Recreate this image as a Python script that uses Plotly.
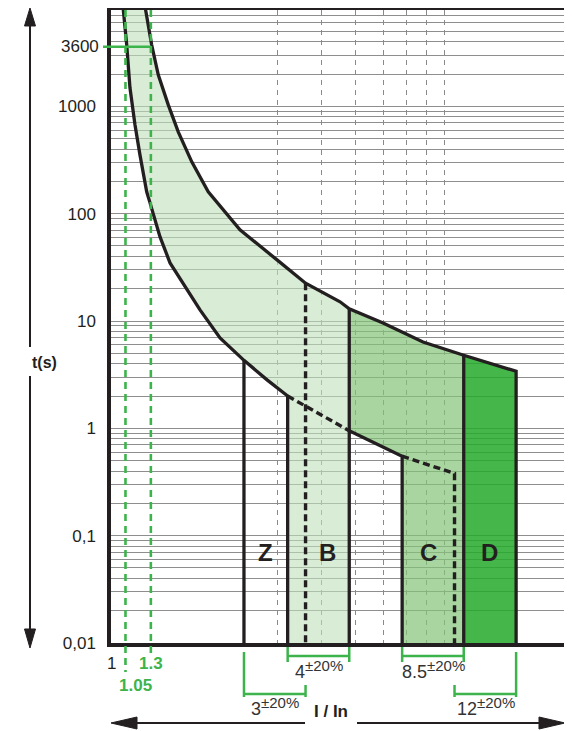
import math
import plotly.graph_objects as go

# ---------------- data ----------------
# upper limit of the thermal band (I/In, t in s)
upper_I = [1.249, 1.307, 1.365, 1.458, 1.557, 1.702, 1.897, 2.338, 2.984, 3.6, 4.518, 4.8, 5.996, 7.80, 10.2]
upper_t = [8800, 3740, 1966, 1032, 578, 304, 160, 70.6, 37.1, 22.5, 15.1, 13.0, 9.6, 6.38, 4.8]
# lower limit of the thermal band
lower_I = [1.081, 1.109, 1.133, 1.171, 1.21, 1.265, 1.293, 1.381, 1.475, 1.607, 1.797, 2.05, 2.4, 2.794, 3.2]
lower_t = [8800, 3740, 1490, 673, 353, 160, 126, 60.8, 34.8, 22.6, 12.7, 6.96, 4.3, 2.83, 2.0]
# lower limit of the magnetic (instantaneous) zone
inst_I = [3.2, 4.8, 6.8, 9.6]
inst_t = [2.0, 0.95, 0.55, 0.38]
# top edge of curve D
d_top_I = [10.2, 14.4]
d_top_t = [4.8, 3.4]

curve_names = ["Z", "B", "C", "D"]
nominal = [3, 4, 8.5, 12]          # magnetic trip, x In
nominal_text = ["3", "4", "8.5", "12"]
tolerance = 0.20

t_min, t_max = 0.01, 7900
I_min, I_max = 1, 20

ytick_vals = [0.01, 0.1, 1, 10, 100, 1000]
ytick_text = ["0,01", "0,1", "1", "10", "100", "1000"]
marker_time = 3600
conv_I = [1.1, 1.3]                 # drawn positions of the conventional currents
conv_text = ["1.05", "1.3"]
x_grid = [3, 4, 5, 6, 7, 8, 9]
y_minor = [m * 10 ** k for k in range(-2, 4) for m in range(2, 10)]

# ---------------- styles ----------------
FONT = "Liberation Sans, Arial, sans-serif"
BLACK = "#231f20"
GREEN = "#3cb44b"
GRID = "#8e8e8e"
LIGHT = "rgba(192,223,185,0.6)"
MEDIUM = "rgba(131,195,119,0.7)"
DARK = "rgba(36,169,42,0.85)"

# page body keeps an 8 px margin, so the figure is made 8 px smaller
OFF = 8
W, H = 572 - OFF, 731 - OFF
L, R, T, B = 111 - OFF, 6, 10 - OFF, 88
PW, PH = W - L - R, H - T - B     # 455 x 633 ; window coords: x 111..566, y 10..643


def lg(v):
    return math.log10(v)


def px2x(p):          # window pixel -> paper x
    return (p - 111) / PW


def px2y(p):          # window pixel -> paper y
    return (643 - p) / PH


def on_curve(Is, ts, x):
    for i in range(len(Is) - 1):
        if Is[i] <= x <= Is[i + 1]:
            f = (lg(x) - lg(Is[i])) / (lg(Is[i + 1]) - lg(Is[i]))
            return 10 ** (lg(ts[i]) + f * (lg(ts[i + 1]) - lg(ts[i])))
    return ts[-1]


lo = [n * (1 - tolerance) for n in nominal]
hi = [n * (1 + tolerance) for n in nominal]
zl, zh = lo[0], hi[0]
bl, bh = lo[1], hi[1]
cl, ch = lo[2], hi[2]
dl, dh = lo[3], hi[3]

fig = go.Figure()

# ---------------- fills ----------------
k = upper_I.index(bh)
light_x = lower_I + [bl, bh] + upper_I[:k + 1][::-1]
light_y = lower_t + [t_min, t_min] + upper_t[:k + 1][::-1]
fig.add_trace(go.Scatter(x=light_x, y=light_y, fill="toself", fillcolor=LIGHT,
                         mode="lines", line=dict(width=0), hoverinfo="skip"))

med_x = upper_I[k:] + [ch, cl, cl, bh]
med_y = upper_t[k:] + [t_min, t_min, inst_t[2], inst_t[1]]
fig.add_trace(go.Scatter(x=med_x, y=med_y, fill="toself", fillcolor=MEDIUM,
                         mode="lines", line=dict(width=0), hoverinfo="skip"))

dark_x = d_top_I + [d_top_I[1], d_top_I[0]]
dark_y = d_top_t + [t_min, t_min]
fig.add_trace(go.Scatter(x=dark_x, y=dark_y, fill="toself", fillcolor=DARK,
                         mode="lines", line=dict(width=0), hoverinfo="skip"))

# ---------------- black lines ----------------
solid = dict(color=BLACK, width=3.3)
dashed = dict(color=BLACK, width=3.4, dash="7px,4px")


def line(xs, ys, style):
    fig.add_trace(go.Scatter(x=xs, y=ys, mode="lines", line=style, hoverinfo="skip"))


line(upper_I + d_top_I[1:] + [d_top_I[-1]], upper_t + d_top_t[1:] + [t_min], solid)
line(lower_I + [lower_I[-1]], lower_t + [t_min], solid)
line([zl, zl], [on_curve(lower_I, lower_t, zl), t_min], solid)
line([bh, bh], [on_curve(upper_I, upper_t, bh), t_min], solid)
line([inst_I[1], inst_I[2], inst_I[2]], [inst_t[1], inst_t[2], t_min], solid)
line([ch, ch], [on_curve(upper_I, upper_t, ch), t_min], solid)
line(inst_I[:2], inst_t[:2], dashed)
line([inst_I[2], inst_I[3], inst_I[3]], [inst_t[2], inst_t[3], t_min], dashed)
line([zh, zh], [on_curve(upper_I, upper_t, zh), t_min], dashed)

shapes = []
ann = []

# conventional current lines (green dashed) - shapes on log axes take data values
ends = [672, 653]
for xv, yb in zip(conv_I, ends):
    shapes.append(dict(type="line", xref="x", yref="paper", x0=xv, x1=xv,
                       y0=1, y1=px2y(yb), line=dict(color=GREEN, width=2.6, dash="7px,5px")))
# 3600 s marker
shapes.append(dict(type="line", xref="paper", yref="y", x0=px2x(103), x1=lg(conv_I[1]) / lg(I_max),
                   y0=marker_time, y1=marker_time, line=dict(color=GREEN, width=2.5)))
ann.append(dict(xref="paper", yref="y", x=px2x(101), y=lg(marker_time), text=str(marker_time),
                xanchor="right", yanchor="middle", showarrow=False,
                font=dict(family=FONT, size=17, color=BLACK)))

# x labels
ann.append(dict(xref="x", yref="paper", x=lg(I_min), y=px2y(663.5), text="1", showarrow=False,
                xanchor="center", yanchor="middle", font=dict(family=FONT, size=17, color=BLACK)))
ann.append(dict(xref="x", yref="paper", x=lg(conv_I[1]), y=px2y(663.5), text="<b>%s</b>" % conv_text[1],
                showarrow=False, xanchor="center", yanchor="middle",
                font=dict(family=FONT, size=17, color=GREEN)))
ann.append(dict(xref="x", yref="paper", x=lg(conv_I[0]), xshift=10, y=px2y(685.5),
                text="<b>%s</b>" % conv_text[0], showarrow=False, xanchor="center", yanchor="middle",
                font=dict(family=FONT, size=17, color=GREEN)))

# region letters
label_t = 0.069
bounds = [(zl, bl), (zh, bh), (cl, dl), (ch, dh)]
for name, (a, b) in zip(curve_names, bounds):
    ann.append(dict(xref="x", yref="y", x=(lg(a) + lg(b)) / 2, y=lg(label_t), text="<b>%s</b>" % name,
                    showarrow=False, font=dict(family=FONT, size=24, color=BLACK)))

# tolerance brackets
gl = dict(color=GREEN, width=2.5)
NUM_FS, TOL_FS = 18, 15
tol_text = "±%d%%" % round(tolerance * 100)


def text_w(s, fs):
    widths = {".": 0.278, "±": 0.584, "%": 0.889}
    return sum(widths.get(c, 0.556) for c in s) * fs


for i in range(4):
    a, b = lo[i], hi[i]
    if i in (1, 2):
        yh = 656
        shapes.append(dict(type="line", xref="x", yref="paper", x0=a, x1=b, y0=px2y(yh), y1=px2y(yh), line=gl))
        for xv in (a, b):
            shapes.append(dict(type="line", xref="x", yref="paper", x0=xv, x1=xv,
                               y0=px2y(647), y1=px2y(662), line=gl))
        base = 678
    else:
        yh = 694
        shapes.append(dict(type="line", xref="x", yref="paper", x0=a, x1=b, y0=px2y(yh), y1=px2y(yh), line=gl))
        long_x, short_x = (a, b) if i == 0 else (b, a)
        shapes.append(dict(type="line", xref="x", yref="paper", x0=long_x, x1=long_x,
                           y0=px2y(652), y1=px2y(697), line=gl))
        shapes.append(dict(type="line", xref="x", yref="paper", x0=short_x, x1=short_x,
                           y0=px2y(685), y1=px2y(697), line=gl))
        base = 715
    nw = text_w(nominal_text[i], NUM_FS)
    tw = text_w(tol_text, TOL_FS)
    split = -(nw + tw) / 2 + nw
    cx = (lg(a) + lg(b)) / 2
    ann.append(dict(xref="x", yref="paper", x=cx, xshift=split + 3, y=px2y(base - 6.5),
                    text=nominal_text[i], showarrow=False, xanchor="right", yanchor="middle",
                    font=dict(family=FONT, size=NUM_FS, color="#333333")))
    ann.append(dict(xref="x", yref="paper", x=cx, xshift=split - 1, y=px2y(base - 7 - 5.3),
                    text=tol_text, showarrow=False, xanchor="left", yanchor="middle",
                    font=dict(family=FONT, size=TOL_FS, color="#333333")))

# axis arrows
al = dict(color=BLACK, width=2)
ax_x = px2x(30)
shapes.append(dict(type="line", xref="paper", yref="paper", x0=ax_x, x1=ax_x, y0=px2y(24), y1=px2y(347), line=al))
shapes.append(dict(type="line", xref="paper", yref="paper", x0=ax_x, x1=ax_x, y0=px2y(376), y1=px2y(630), line=al))


def tri(p):
    d = "M %f %f L %f %f L %f %f Z" % (px2x(p[0][0]), px2y(p[0][1]), px2x(p[1][0]), px2y(p[1][1]),
                                        px2x(p[2][0]), px2y(p[2][1]))
    shapes.append(dict(type="path", xref="paper", yref="paper", path=d, fillcolor=BLACK,
                       line=dict(color=BLACK, width=1)))


tri([(30, 8), (24.5, 26), (35.5, 26)])
tri([(30, 648), (24.5, 629), (35.5, 629)])
ay_y = px2y(723)
shapes.append(dict(type="line", xref="paper", yref="paper", x0=px2x(130), x1=px2x(305), y0=ay_y, y1=ay_y, line=al))
shapes.append(dict(type="line", xref="paper", yref="paper", x0=px2x(357), x1=px2x(546), y0=ay_y, y1=ay_y, line=al))
tri([(111, 723), (137, 717), (137, 729)])
tri([(565, 723), (539, 717), (539, 729)])

ann.append(dict(xref="paper", yref="paper", x=ax_x, y=px2y(362), text="<b>t(s)</b>", showarrow=False,
                font=dict(family=FONT, size=16, color=BLACK)))
ann.append(dict(xref="paper", yref="paper", x=px2x(331), y=ay_y, text="<b>I / In</b>", showarrow=False,
                font=dict(family=FONT, size=17, color=BLACK)))

fig.update_layout(
    width=W, height=H, margin=dict(l=L, r=R, t=T, b=B, autoexpand=False),
    paper_bgcolor="white", plot_bgcolor="white", showlegend=False,
    shapes=shapes, annotations=ann,
    xaxis=dict(type="log", range=[lg(I_min), lg(I_max)], tickvals=x_grid, showticklabels=False,
               ticks="", showgrid=True, gridcolor="#8a8a8a", gridwidth=1, griddash="5px,5px",
               showline=True, mirror=True, linecolor=BLACK, linewidth=3.5, zeroline=False,
               fixedrange=True, automargin=False),
    yaxis=dict(type="log", range=[lg(t_min), lg(t_max)], tickvals=ytick_vals, ticktext=ytick_text, ticks="",
               ticklabelstandoff=8, tickfont=dict(family=FONT, size=17, color=BLACK),
               showgrid=True, gridcolor=GRID, gridwidth=1.2,
               minor=dict(tickvals=y_minor, showgrid=True, gridcolor=GRID, gridwidth=1.2, ticks=""),
               showline=True, mirror=True, linecolor=BLACK, linewidth=3.5, zeroline=False,
               fixedrange=True, automargin=False),
)

fig.write_html("out.html")
